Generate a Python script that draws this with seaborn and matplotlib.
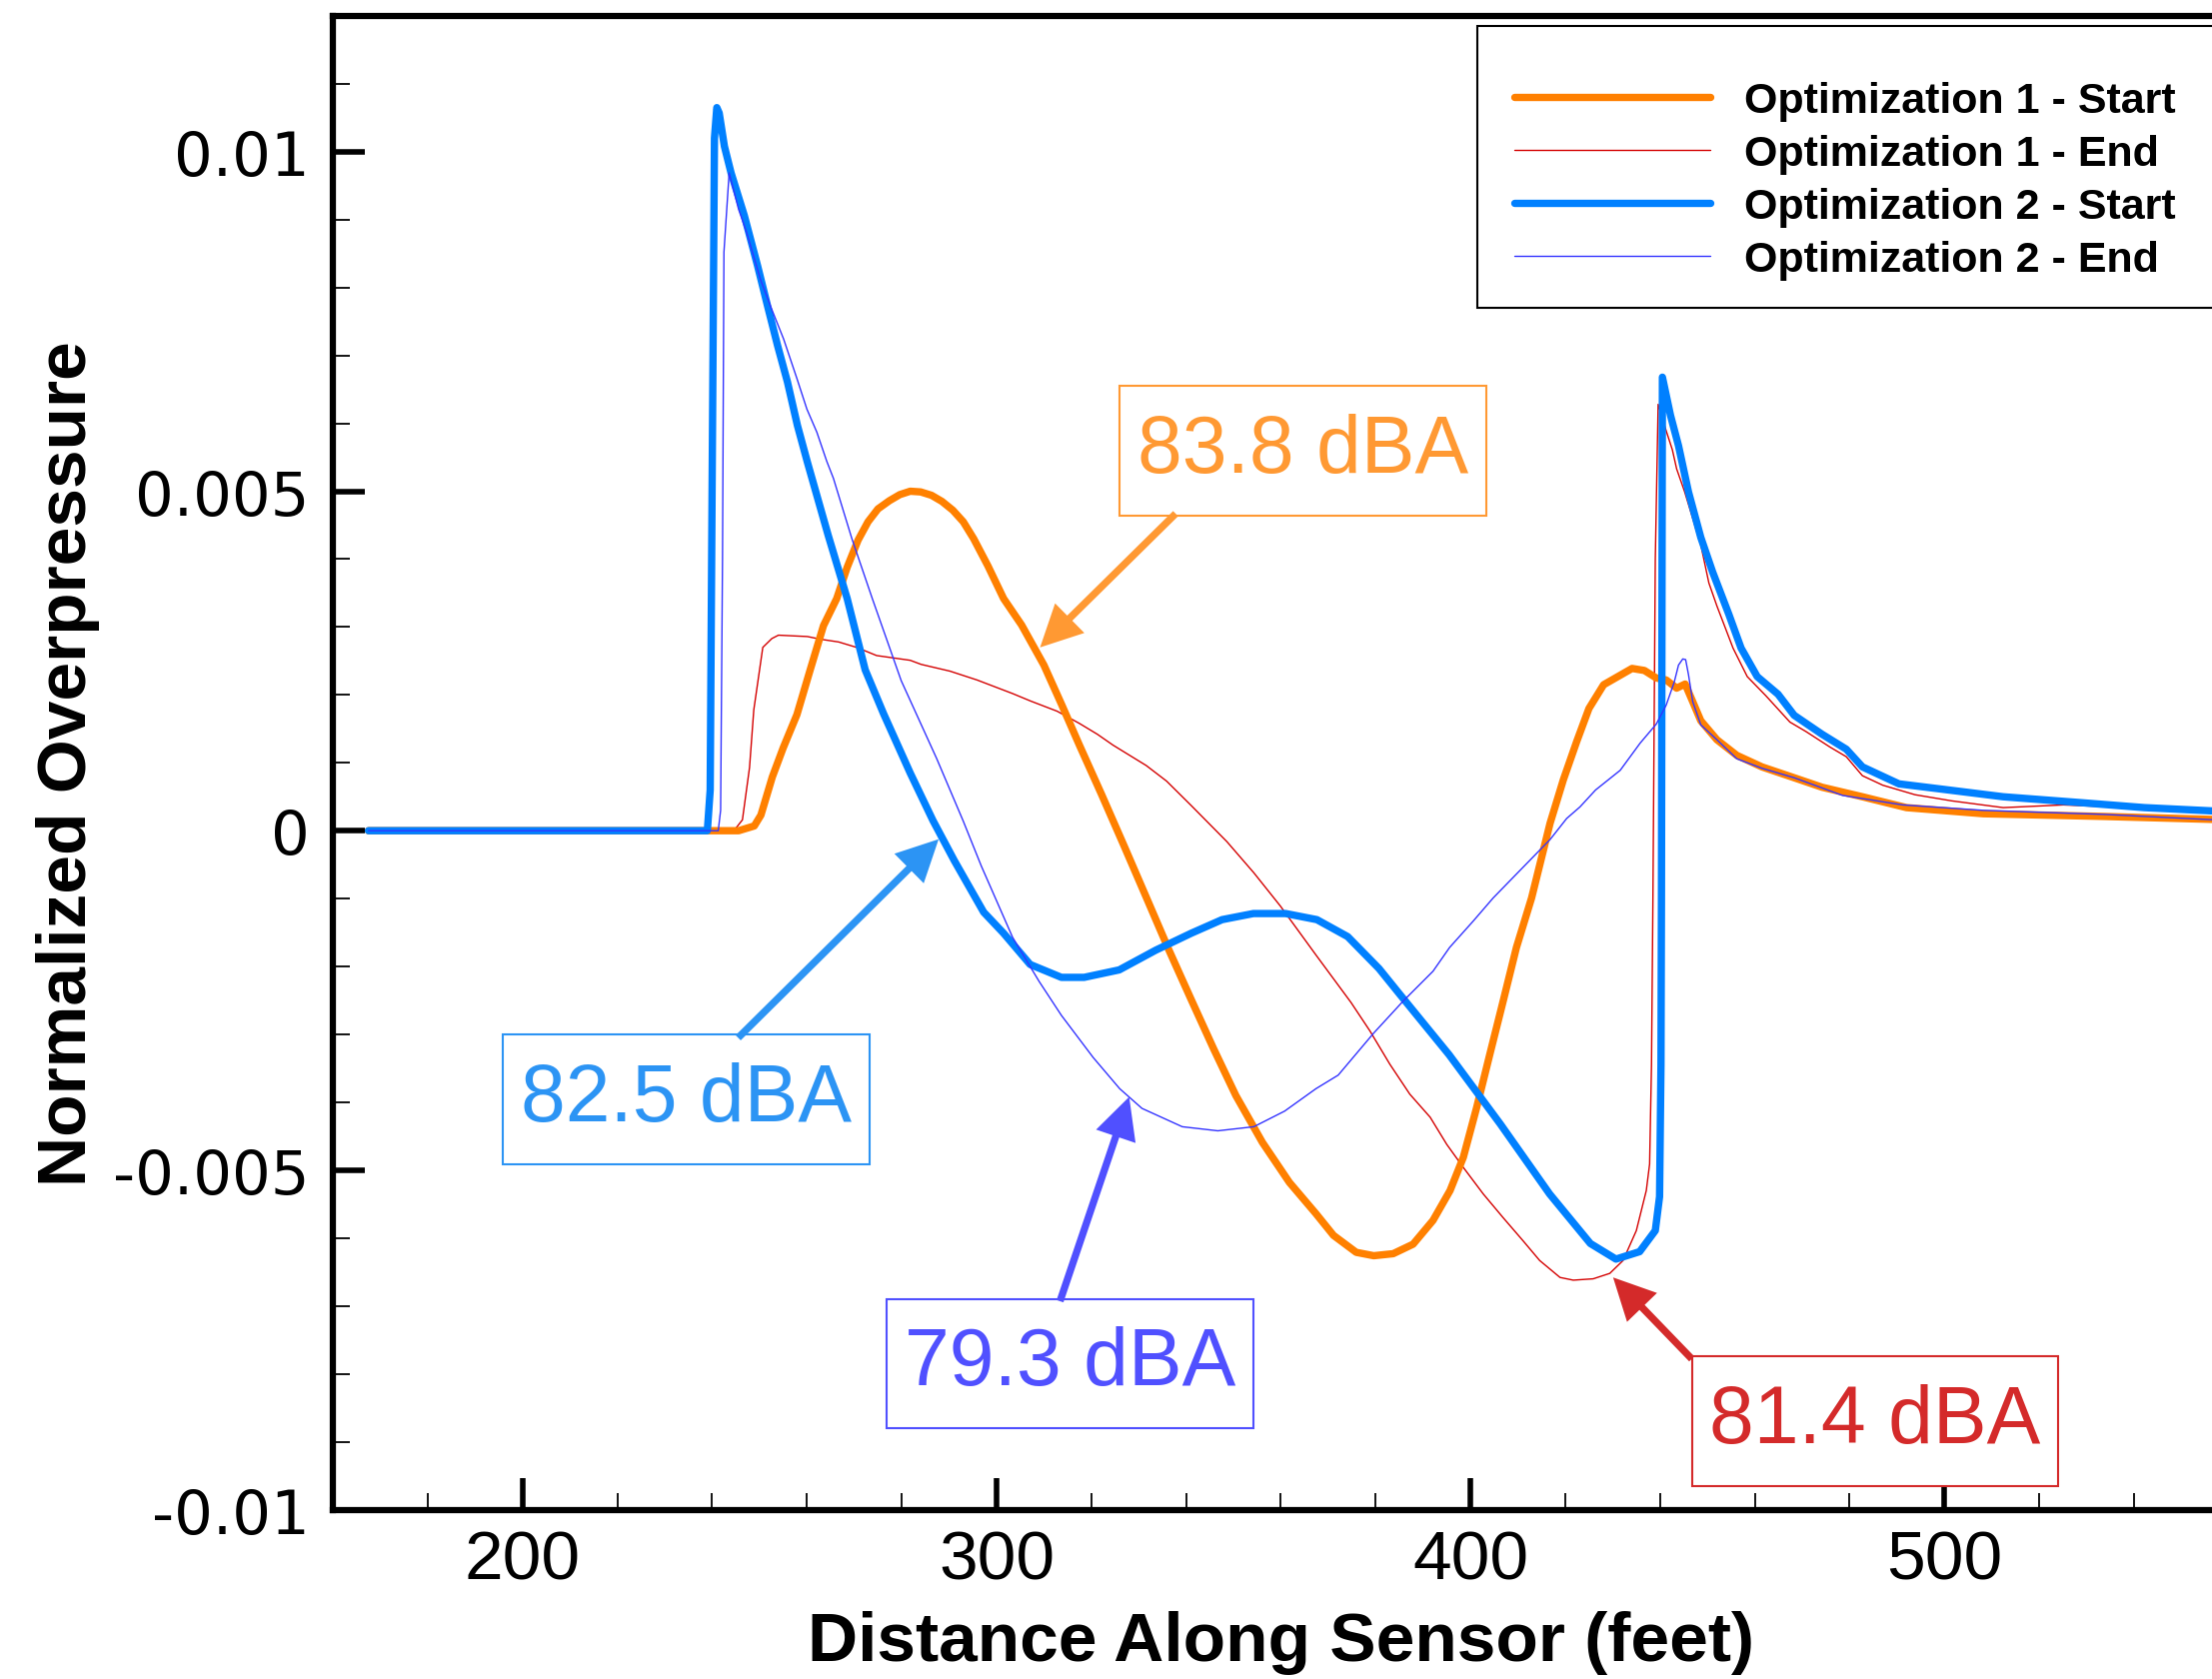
import numpy as np
import pandas as pd
import matplotlib
matplotlib.use("Agg")
import matplotlib.pyplot as plt
from matplotlib.ticker import MultipleLocator, FixedLocator, FixedFormatter
from matplotlib.path import Path
from matplotlib.patches import Rectangle
import seaborn as sns

# ---------------- data (x in feet, y in units of 1e-3) ----------------
opt1_start_x = [167.5, 245.6, 248.9, 250.3, 252.7, 255.0, 257.9, 260.7, 263.5, 266.3,
                268.5, 270.8, 272.9, 275.0, 277.4, 279.6, 281.8, 284.0, 286.3, 288.5,
                290.8, 293.0, 295.2, 298.2, 301.5, 305.3, 310.0, 313.8, 317.5, 322.2,
                326.9, 331.6, 336.4, 341.1, 345.8, 350.5, 356.1, 361.8, 367.4, 371.1,
                375.9, 379.6, 383.7, 387.9, 392.1, 395.7, 398.5, 401.3, 404.1, 406.9,
                409.7, 412.9, 416.8, 419.6, 422.4, 425.0, 428.1, 431.6, 434.1, 436.7,
                439.2, 441.3, 443.5, 445.3, 446.9, 448.6, 452.0, 456.2, 461.5, 468.3,
                474.2, 482.7, 492.0, 508.2, 533.7, 560.0]
opt1_start_y = [0.0, 0.0, 0.07, 0.23, 0.79, 1.22, 1.71, 2.37, 3.02, 3.42,
                3.88, 4.28, 4.55, 4.74, 4.86, 4.95, 5.00, 4.99, 4.94, 4.85,
                4.72, 4.55, 4.30, 3.90, 3.42, 3.03, 2.44, 1.85, 1.26, 0.53,
                -0.22, -0.98, -1.76, -2.49, -3.21, -3.90, -4.59, -5.18, -5.64, -5.96,
                -6.21, -6.26, -6.23, -6.09, -5.74, -5.30, -4.81, -4.08, -3.29, -2.51,
                -1.72, -0.99, 0.11, 0.75, 1.31, 1.80, 2.15, 2.29, 2.39, 2.36,
                2.25, 2.22, 2.10, 2.16, 1.90, 1.62, 1.34, 1.11, 0.94, 0.78,
                0.64, 0.50, 0.34, 0.25, 0.21, 0.16]

opt1_end_x = [167.5, 244.6, 246.4, 247.9, 248.8, 250.7, 252.6, 254.0, 260.1, 262.9,
              266.7, 270.5, 274.7, 281.8, 284.1, 290.2, 295.9, 303.4, 307.2, 312.8,
              317.5, 321.3, 324.6, 331.6, 335.9, 341.1, 348.6, 354.3, 359.9, 367.4,
              374.8, 378.8, 383.0, 387.2, 391.5, 395.0, 398.5, 402.7, 406.9, 411.1,
              414.6, 418.9, 421.7, 425.9, 429.4, 432.2, 435.0, 437.1, 437.8, 438.2,
              438.5, 439.0, 439.6, 441.3, 442.6, 443.5, 445.2, 446.9, 448.6, 450.3,
              452.0, 455.4, 458.4, 462.3, 467.4, 470.8, 475.9, 479.3, 482.7, 487.0,
              493.8, 501.5, 512.4, 525.1, 542.2, 560.0]
opt1_end_y = [0.0, 0.0, 0.16, 0.93, 1.78, 2.70, 2.83, 2.88, 2.86, 2.82,
              2.78, 2.70, 2.58, 2.51, 2.45, 2.35, 2.22, 2.02, 1.91, 1.76,
              1.58, 1.42, 1.26, 0.96, 0.73, 0.37, -0.16, -0.62, -1.11, -1.83,
              -2.53, -2.95, -3.44, -3.88, -4.22, -4.62, -4.96, -5.35, -5.70, -6.04,
              -6.33, -6.58, -6.62, -6.60, -6.52, -6.33, -5.89, -5.30, -4.91, -3.44,
              -0.99, 4.00, 6.28, 5.89, 5.61, 5.33, 4.99, 4.60, 4.21, 3.65,
              3.31, 2.69, 2.27, 1.99, 1.60, 1.46, 1.23, 1.09, 0.81, 0.67,
              0.53, 0.44, 0.34, 0.38, 0.33, 0.24]

opt2_start_x = [167.5, 239.0, 239.6, 240.0, 240.5, 241.0, 241.5, 242.6, 244.0, 246.8,
                249.6, 251.7, 253.8, 255.9, 258.0, 260.1, 264.5, 268.5, 272.3, 276.2,
                281.8, 286.6, 291.1, 297.3, 301.5, 307.1, 313.7, 318.5, 325.9, 333.6,
                341.1, 347.6, 354.2, 361.0, 367.6, 374.1, 380.7, 385.1, 395.5, 406.3,
                416.7, 425.3, 430.7, 435.7, 439.0, 439.9, 440.2, 440.3, 440.5, 442.2,
                443.9, 446.0, 448.6, 451.1, 454.5, 457.1, 460.5, 464.9, 468.3, 474.2,
                479.3, 482.7, 490.4, 499.7, 512.4, 529.4, 542.2, 560.0]
opt2_start_y = [0.0, 0.0, 0.6, 5.0, 10.2, 10.65, 10.57, 10.08, 9.69, 9.06,
                8.32, 7.73, 7.15, 6.61, 5.97, 5.43, 4.35, 3.42, 2.37, 1.72,
                0.85, 0.15, -0.44, -1.20, -1.51, -1.97, -2.16, -2.16, -2.05, -1.76,
                -1.51, -1.31, -1.22, -1.22, -1.31, -1.56, -2.03, -2.41, -3.30, -4.32,
                -5.35, -6.08, -6.31, -6.20, -5.89, -5.39, -3.44, -1.00, 6.68, 6.12,
                5.67, 4.99, 4.32, 3.81, 3.19, 2.69, 2.27, 2.01, 1.70, 1.42,
                1.20, 0.94, 0.69, 0.61, 0.50, 0.41, 0.34, 0.28]

opt2_end_x = [167.5, 241.3, 241.8, 242.2, 242.5, 243.6, 245.6, 247.3, 250.2, 252.3,
              255.1, 257.9, 260.0, 262.1, 264.2, 265.6, 269.5, 273.8, 279.9, 287.4,
              293.0, 296.8, 303.4, 309.0, 313.7, 320.4, 326.0, 330.7, 339.2, 346.7,
              354.3, 360.8, 367.4, 372.1, 379.6, 385.8, 392.1, 395.6, 400.6, 404.8,
              416.8, 420.3, 423.1, 426.4, 431.6, 435.8, 439.2, 441.3, 443.0, 443.9,
              444.8, 445.4, 446.0, 446.9, 448.6, 452.0, 456.2, 461.5, 468.3, 478.5,
              491.2, 508.2, 533.7, 560.0]
opt2_end_y = [0.0, 0.0, 0.3, 4.0, 8.52, 9.69, 9.15, 8.81, 8.12, 7.73,
              7.24, 6.66, 6.21, 5.87, 5.44, 5.19, 4.30, 3.42, 2.21, 1.06,
              0.14, -0.52, -1.57, -2.22, -2.72, -3.34, -3.80, -4.09, -4.36, -4.42,
              -4.36, -4.13, -3.80, -3.60, -2.98, -2.51, -2.07, -1.72, -1.33, -0.99,
              -0.13, 0.18, 0.35, 0.60, 0.89, 1.29, 1.57, 1.85, 2.19, 2.44,
              2.53, 2.52, 2.30, 1.90, 1.56, 1.34, 1.06, 0.92, 0.78, 0.52,
              0.38, 0.30, 0.24, 0.15]

series_names = ["Optimization 1 - Start", "Optimization 1 - End",
                "Optimization 2 - Start", "Optimization 2 - End"]

xtick_values = [200, 300, 400, 500]
xtick_labels = ["200", "300", "400", "500"]
ytick_values = [-0.01, -0.005, 0.0, 0.005, 0.01]
ytick_labels = ["-0.01", "-0.005", "0", "0.005", "0.01"]

annot_texts = ["83.8 dBA", "82.5 dBA", "79.3 dBA", "81.4 dBA"]
annot_text_xy = [(364.6, 0.00559), (234.5, -0.00396), (315.5, -0.00785), (485.4, -0.00870)]
annot_tail_xy = [(337.8, 0.00467), (245.5, -0.00305), (313.4, -0.00693), (446.7, -0.00778)]
annot_tip_xy = [(309.2, 0.00270), (287.8, -0.000125), (328.0, -0.00392), (430.1, -0.00658)]

# ---------------- style ----------------
sns.set_style("ticks")
plt.rcParams['font.family'] = ['Liberation Sans', 'DejaVu Sans']
plt.rcParams['axes.unicode_minus'] = False
plt.rcParams['text.color'] = 'black'
plt.rcParams['axes.labelcolor'] = 'black'

line_colors = ['#FF8000', '#D40000', '#0080FF', '#3333FF']
line_widths = [5.3, 1.0, 5.3, 1.0]
line_z = [2.1, 2.0, 2.2, 2.3]
annot_colors = ['#FF9933', '#2C94F4', '#5050FF', '#D42A2A']


def label_box(x0, y0, width, height, mutation_size, padx=0.22, pady=0.335):
    px = padx * mutation_size
    py = pady * mutation_size
    xa, ya = x0 - px, y0 - py
    xb, yb = x0 + width + px, y0 + height + py
    return Path([(xa, ya), (xb, ya), (xb, yb), (xa, yb), (xa, ya)], closed=True)


fig = plt.figure(figsize=(22.13, 16.81), dpi=100)
ax = fig.add_axes([0.1505, 0.1008, 0.8571, 0.8891])

all_x = [opt1_start_x, opt1_end_x, opt2_start_x, opt2_end_x]
all_y = [opt1_start_y, opt1_end_y, opt2_start_y, opt2_end_y]
for name, xs, ys, c, lw, z in zip(series_names, all_x, all_y, line_colors, line_widths, line_z):
    df = pd.DataFrame({"x": xs, "y": np.array(ys) * 1e-3})
    sns.lineplot(data=df, x="x", y="y", color=c, linewidth=lw, label=name,
                 ax=ax, estimator=None, sort=False, zorder=z)

ax.set_xlim(160, 560)
ax.set_ylim(-0.01, 0.012)

ax.xaxis.set_major_locator(FixedLocator(xtick_values))
ax.xaxis.set_major_formatter(FixedFormatter(xtick_labels))
ax.xaxis.set_minor_locator(MultipleLocator(20))
ax.yaxis.set_major_locator(FixedLocator(ytick_values))
ax.yaxis.set_major_formatter(FixedFormatter(ytick_labels))
ax.yaxis.set_minor_locator(MultipleLocator(0.001))

ax.tick_params(which='both', direction='in', top=False, right=False,
               left=True, bottom=True, color='black', labelcolor='black')
ax.tick_params(which='major', length=23, width=4)
ax.tick_params(which='minor', length=12.5, width=1.3)
ax.tick_params(axis='x', which='major', labelsize=50, pad=14)
ax.tick_params(axis='y', which='major', labelsize=44, pad=17)
for lbl in ax.get_yticklabels():
    lbl.set_fontfamily(['DejaVu Sans'])

for s in ax.spines.values():
    s.set_linewidth(4.5)
    s.set_color('black')

ax.set_xlabel("Distance Along Sensor (feet)", fontsize=50, fontweight='bold', color='black')
ax.xaxis.set_label_coords(0.5, -0.067)
ax.set_ylabel("Normalized Overpressure", fontsize=50, fontweight='bold', color='black')
ax.yaxis.set_label_coords(-0.123, 0.5)

# legend frame (drawn as a separate rectangle, running off the right edge)
W, H = 2213.0, 1681.0
frame = Rectangle((1478 / W, 1 - 309 / H), (2260 - 1478) / W, (309 - 27) / H,
                  transform=fig.transFigure, fc='white', ec='black', lw=1.5,
                  zorder=4, clip_on=False)
ax.add_patch(frame)

handles, labels = ax.get_legend_handles_labels()
leg = ax.legend(handles, labels, loc='upper left', bbox_to_anchor=(0.6679, 0.9730),
                bbox_transform=fig.transFigure, borderaxespad=0, frameon=False,
                prop={'family': 'Liberation Sans', 'weight': 'bold', 'size': 31},
                handlelength=4.55, handletextpad=0.79, labelspacing=0.3, borderpad=0.85,
                labelcolor='black')
leg.set_zorder(5)

for txt, (cx, cy), (tx, ty), (hx, hy), col in zip(annot_texts, annot_text_xy, annot_tail_xy,
                                                  annot_tip_xy, annot_colors):
    ax.text(cx, cy, txt, color=col, fontsize=58, ha='center', va='center', zorder=6,
            bbox=dict(boxstyle=label_box, fc='white', ec=col, lw=1.5))
    ax.annotate('', xy=(hx, hy), xytext=(tx, ty), zorder=6,
                arrowprops=dict(arrowstyle='simple,head_length=0.75,head_width=0.75,tail_width=0.13',
                                fc=col, ec='none', mutation_scale=40, shrinkA=0, shrinkB=0))

fig.savefig("out.png", dpi=100)
